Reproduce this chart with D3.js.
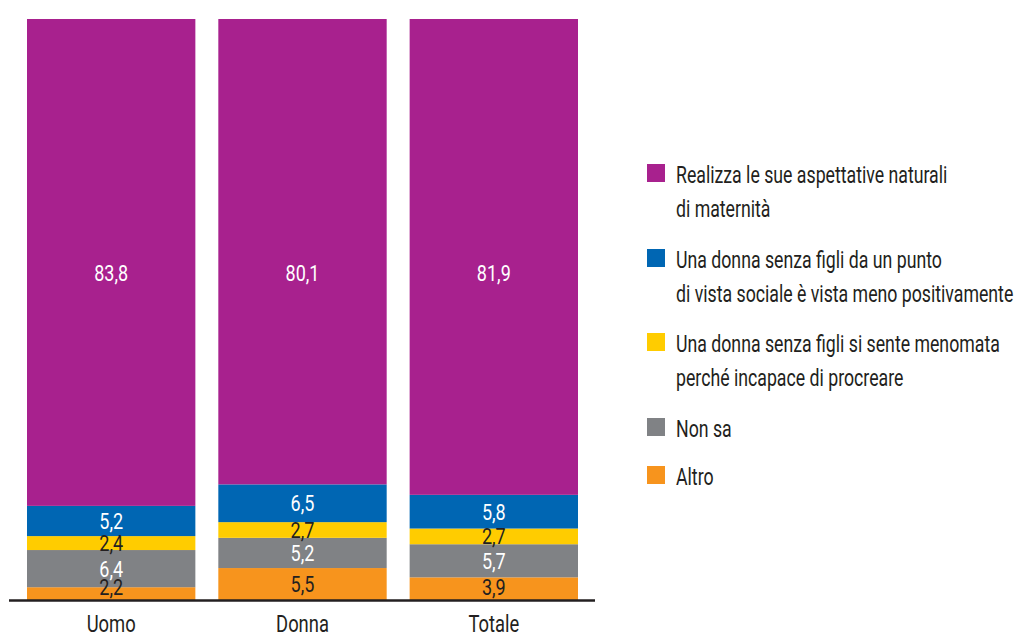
<!DOCTYPE html>
<html>
<head>
<meta charset="utf-8">
<script src="https://cdn.jsdelivr.net/npm/d3@7"></script>
<style>
  body { margin: 0; background: #fff; }
  text { font-family: Roboto, "Noto Sans", sans-serif; }
</style>
</head>
<body>
<div id="chart"></div>
<script>
const width = 1024
const height = 635
// the original uses a condensed face, so the text is squeezed sideways
const squeeze = 0.8
const legendSqueeze = 0.77
const valueSqueeze = 0.82

// data
const categories = ["Uomo", "Donna", "Totale"]
const seriesNames = [
    "Realizza le sue aspettative naturali|di maternità",
    "Una donna senza figli da un punto|di vista sociale è vista meno positivamente",
    "Una donna senza figli si sente menomata|perché incapace di procreare",
    "Non sa",
    "Altro"
]
const realizza = [83.8, 80.1, 81.9]
const menoPositiva = [5.2, 6.5, 5.8]
const menomata = [2.4, 2.7, 2.7]
const nonSa = [6.4, 5.2, 5.7]
const altro = [2.2, 5.5, 3.9]

const colors = ["#a8218e", "#0066b3", "#ffcc00", "#808285", "#f7941d"]
const labelColors = ["#fff", "#fff", "#231f20", "#fff", "#231f20"]

// stack from the bottom: altro first, realizza on top
const keys = ["realizza", "menoPositiva", "menomata", "nonSa", "altro"]
const rows = categories.map((c, i) => ({
    cat: c,
    realizza: realizza[i],
    menoPositiva: menoPositiva[i],
    menomata: menomata[i],
    nonSa: nonSa[i],
    altro: altro[i]
}))

const stack = d3.stack().keys(keys.slice().reverse())
const layers = stack(rows)

const svg = d3.select("#chart")
    .append("svg")
    .attr("width", width)
    .attr("height", height)

const x = d3.scaleBand()
    .domain(categories)
    .range([27, 578])
    .paddingInner(0.12)
    .paddingOuter(0)

const y = d3.scaleLinear()
    .domain([0, 100])
    .range([600, 19])

const layerG = svg.selectAll("g.layer")
    .data(layers)
    .enter()
    .append("g")
    .attr("class", "layer")
    .attr("fill", d => colors[keys.indexOf(d.key)])

layerG.selectAll("rect")
    .data(d => d)
    .enter()
    .append("rect")
    .attr("x", d => x(d.data.cat))
    .attr("y", d => y(d[1]))
    .attr("width", x.bandwidth())
    .attr("height", d => y(d[0]) - y(d[1]))

// value labels
layers.forEach(layer => {
    const k = keys.indexOf(layer.key)
    svg.append("g")
        .selectAll("text")
        .data(layer)
        .enter()
        .append("text")
        .attr("transform", d => {
            let lx = x(d.data.cat) + x.bandwidth() / 2
            // big top segment: label sits lower than its middle
            let ly = k === 0 ? y(56.3) : Math.min((y(d[0]) + y(d[1])) / 2, 587)
            return "translate(" + lx + "," + ly + ") scale(" + valueSqueeze + ",1)"
        })
        .attr("dy", "0.36em")
        .attr("text-anchor", "middle")
        .attr("fill", labelColors[k])
        .style("font-size", "22px")
        .text(d => d3.format(".1f")(d[1] - d[0]).replace(".", ","))
})

// baseline
svg.append("line")
    .attr("x1", 9)
    .attr("x2", 595)
    .attr("y1", y(0) + 0.5)
    .attr("y2", y(0) + 0.5)
    .attr("stroke", "#231f20")
    .attr("stroke-width", 2.5)

// category axis
const xAxis = svg.append("g")
    .attr("transform", "translate(0," + y(0) + ")")
    .call(d3.axisBottom(x).tickSize(0).tickPadding(0))
xAxis.select(".domain").remove()
xAxis.selectAll("text")
    .attr("y", 32)
    .attr("dy", 0)
    .attr("transform", "scale(" + squeeze + ",1)")
    .attr("fill", "#231f20")
    .style("font-size", "23px")
    .style("font-family", "Roboto, 'Noto Sans', sans-serif")

// legend
const legendTops = [164, 249, 333, 418, 466]
const legend = svg.append("g")
    .selectAll("g")
    .data(seriesNames)
    .enter()
    .append("g")
    .attr("transform", (d, i) => "translate(647," + legendTops[i] + ")")

legend.append("rect")
    .attr("width", 18)
    .attr("height", 18)
    .attr("fill", (d, i) => colors[i])

legend.append("text")
    .attr("transform", "translate(29,0) scale(" + legendSqueeze + ",1)")
    .attr("fill", "#231f20")
    .style("font-size", "23px")
    .selectAll("tspan")
    .data(d => d.split("|"))
    .enter()
    .append("tspan")
    .attr("x", 0)
    .attr("y", (d, i) => 19 + i * 34.4)
    .text(d => d)
</script>
</body>
</html>
